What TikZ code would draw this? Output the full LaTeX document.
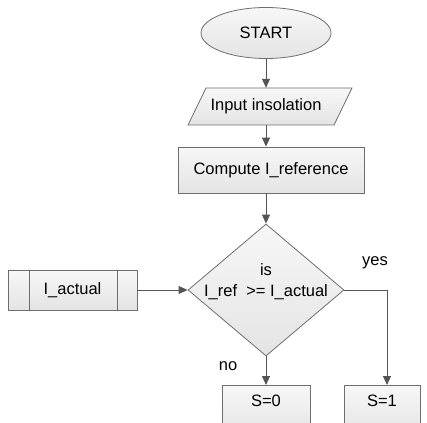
\documentclass[tikz,border=0pt]{standalone}
\usepackage{fontspec}
\setmainfont{Liberation Sans}
\usetikzlibrary{shapes.geometric,arrows.meta,calc}
\definecolor{edgec}{RGB}{110,110,110}
\definecolor{arrc}{RGB}{85,85,85}
\definecolor{ftop}{RGB}{247,247,247}
\definecolor{fbot}{RGB}{228,228,228}
\begin{document}
\begin{tikzpicture}[x=1pt,y=-1pt,
  every node/.style={font=\fontsize{16.5}{21}\selectfont, inner sep=0pt},
  boxsty/.style={draw=edgec, line width=0.8pt, top color=ftop, bottom color=fbot},
  endbox/.style={boxsty, text height=21pt, text depth=30pt},
  flow/.style={draw=arrc, line width=0.9pt, -{Triangle[length=9pt,width=8pt]}},
  thinline/.style={draw=edgec, line width=0.8pt},
]
\path[use as bounding box, clip] (0,0) rectangle (427,422);

\node[boxsty, ellipse, minimum width=130pt, minimum height=51pt] (start) at (266,33) {START};

\draw[boxsty] (188,125) -- (334,125) -- (352,88) -- (206,88) -- cycle;
\node[minimum width=146pt, minimum height=37pt] (inp) at (266,106.5) {Input insolation};

\node[boxsty, minimum width=186pt, minimum height=46pt] (comp) at (271,170) {Compute I\_reference};

\node[boxsty, diamond, minimum width=156pt, minimum height=132pt] (dec) at (266,290) {};
\node[align=center] (dectext) at (266,282) {is\\I\_ref~ >= I\_actual};

\node[boxsty, minimum width=129pt, minimum height=40pt] (ia) at (72.5,290) {I\_actual};
\draw[thinline] ($(ia.north west)+(22,0)$) -- ($(ia.south west)+(22,0)$);
\draw[thinline] ($(ia.north east)+(-20,0)$) -- ($(ia.south east)+(-20,0)$);

\node[endbox, anchor=north, minimum width=88pt] (s0) at (266,385) {S=0};
\node[endbox, anchor=north, minimum width=76pt] (s1) at (382,385) {S=1};

\node (yes) at (375,263) {yes};
\node (no) at (228,366) {no};

\draw[flow] (start.south) -- (inp.north);
\draw[flow] (inp.south) -- (inp.south |- comp.north);
\draw[flow] (comp.south -| dec.north) -- (dec.north);
\draw[flow] (ia.east) -- (dec.west);
\coordinate (yc) at (387,290);
\draw[flow] (dec.east) -- (yc) -- (yc |- s1.north);
\draw[flow] (dec.south) -- (s0.north);
\end{tikzpicture}
\end{document}
